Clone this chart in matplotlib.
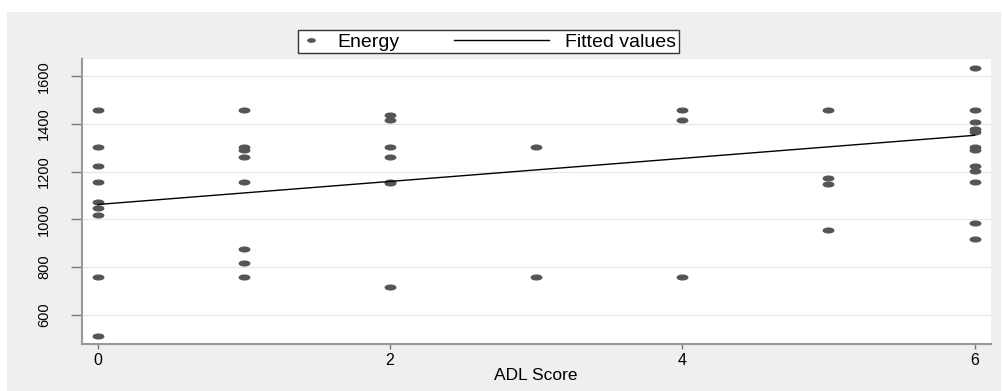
import matplotlib
matplotlib.use("Agg")
from matplotlib import pyplot as plt
from matplotlib.patches import Rectangle
from matplotlib.path import Path
from matplotlib.transforms import Affine2D
from matplotlib.legend_handler import HandlerLine2D

plt.rcParams['font.family'] = ['Liberation Sans', 'DejaVu Sans']

# energy values, grouped by ADL score
adl0 = [1460, 1302, 1223, 1156, 1073, 1047, 1018, 756, 511]
adl1 = [1460, 1302, 1290, 1259, 1156, 877, 818, 756]
adl2 = [1436, 1418, 1302, 1259, 1156, 1154, 714]
adl3 = [1302, 756]
adl4 = [1460, 1416, 756]
adl5 = [1460, 1175, 1148, 953]
adl6 = [1633, 1460, 1408, 1378, 1368, 1302, 1290, 1222, 1203, 1158, 983, 919]
groups = [adl0, adl1, adl2, adl3, adl4, adl5, adl6]

fit_x = [0, 6]
fit_y = [1062, 1352]

xticks = [0, 2, 4, 6]
yticks = [600, 800, 1000, 1200, 1400, 1600]

adl = [score for score, vals in enumerate(groups) for v in vals]
energy = [v for vals in groups for v in vals]

# flat oval dot like the original
oval = Path.unit_circle().transformed(Affine2D().scale(1.0, 0.45))


class LongLine(HandlerLine2D):
    # line handle that reaches left into the column gap
    def get_xdata(self, legend, xdescent, ydescent, width, height, fontsize):
        left = -xdescent - 3.85 * fontsize
        right = width - xdescent
        return [left, right], [left, right]


fig = plt.figure(figsize=(10.03, 3.91), dpi=100)
fig.patch.set_facecolor('white')
fig.patches.append(Rectangle((7 / 1003, 0), 994 / 1003, 379 / 391,
                             transform=fig.transFigure, facecolor='#efefef',
                             edgecolor='none', zorder=-10))

ax = fig.add_axes([81.7 / 1003, 47 / 391, 909 / 1003, 285 / 391])
ax.set_facecolor('white')

pts, = ax.plot(adl, energy, linestyle='none', marker=oval, markersize=7.5,
               color='#555555', label='Energy')
fit, = ax.plot(fit_x, fit_y, color='black', lw=1.0, label='Fitted values')

ax.set_xlim(-0.11, 6.11)
ax.set_ylim(477, 1672)
ax.set_xticks(xticks)
ax.set_yticks(yticks)
ax.set_yticklabels([str(t) for t in yticks], rotation=90, va='center',
                   fontsize=10.5)
ax.set_xticklabels([str(t) for t in xticks], fontsize=11.5)
ax.tick_params(axis='y', length=8, width=1, color='#777777', pad=14)
ax.tick_params(axis='x', length=3.6, width=1, color='#777777', pad=3)
ax.grid(axis='y', color='#e8e8e8', lw=0.9)
ax.set_axisbelow(True)
for s in ['top', 'right']:
    ax.spines[s].set_visible(False)
for s in ['left', 'bottom']:
    ax.spines[s].set_color('#999999')
    ax.spines[s].set_linewidth(1.5)
ax.set_xlabel('ADL Score', fontsize=12.5, labelpad=0)

leg = fig.legend(handles=[pts, fit], loc='upper left',
                 bbox_to_anchor=(298 / 1003, 1 - 30 / 391),
                 bbox_transform=fig.transFigure, ncol=2, fontsize=14,
                 numpoints=1, markerscale=0.7, handlelength=1.04,
                 handletextpad=0.82, columnspacing=6.68, borderpad=0.15,
                 borderaxespad=0, fancybox=False, framealpha=1,
                 edgecolor='#333333', handler_map={fit: LongLine()})
leg.get_frame().set_linewidth(1.0)

fig.savefig('out.png', dpi=100)
